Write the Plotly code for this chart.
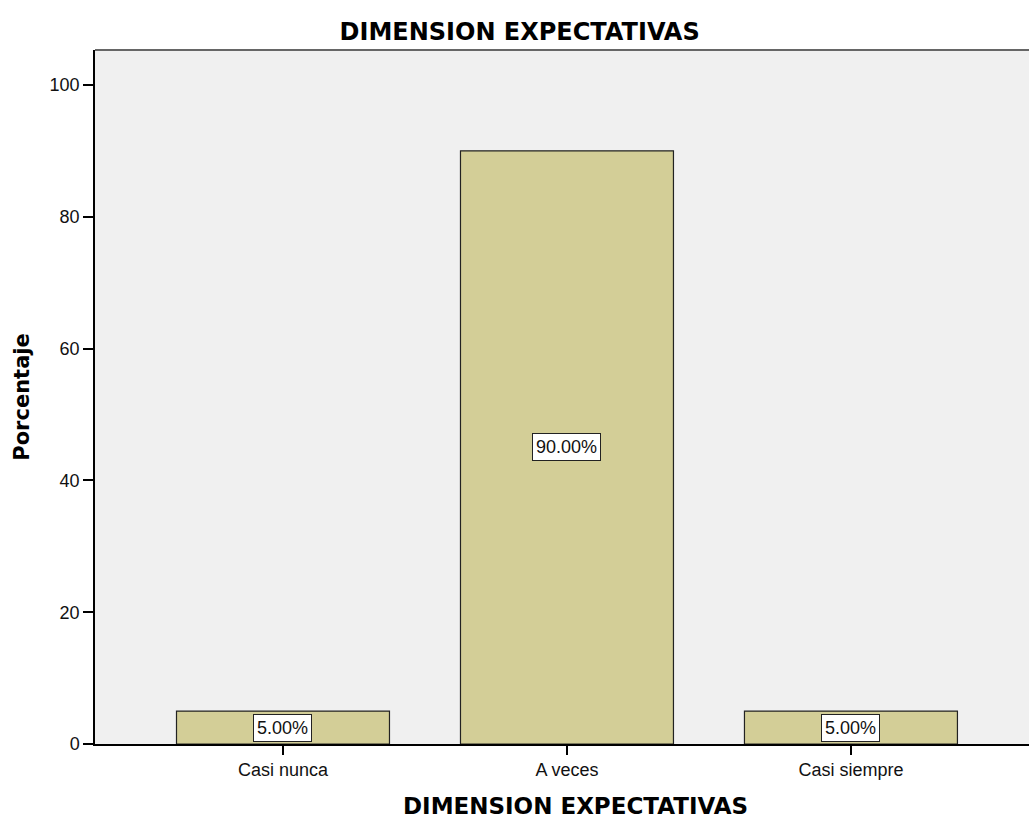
import plotly.graph_objects as go

categories = ["Casi nunca", "A veces", "Casi siempre"]
percentages = [5.0, 90.0, 5.0]
label_texts = ["5.00%", "90.00%", "5.00%"]
y_ticks = [0, 20, 40, 60, 80, 100]

FONT = "Liberation Sans, Arial, sans-serif"
TFONT = "DejaVu Sans, Liberation Sans, Arial, sans-serif"

fig = go.Figure()
fig.add_trace(go.Bar(
    x=categories, y=percentages, width=0.75,
    marker=dict(color="#D3CE97", line=dict(color="#222222", width=1.2)),
    hoverinfo="skip",
))

for c, v, t in zip(categories, percentages, label_texts):
    fig.add_annotation(
        x=c, y=v / 2, text=t, showarrow=False,
        font=dict(family=FONT, size=18, color="#111111"),
        bgcolor="white", bordercolor="#222222", borderwidth=1, borderpad=3,
    )

# x-axis title placed as annotation (centred like the reference)
fig.add_annotation(
    xref="paper", yref="paper", x=0.514, y=-62 / 694, xanchor="center", yanchor="middle",
    text="<b>DIMENSION EXPECTATIVAS</b>", showarrow=False,
    font=dict(family=TFONT, size=23, color="black"),
)

fig.update_layout(
    width=1029, height=819,
    margin=dict(l=95, r=0, t=50, b=75),
    paper_bgcolor="white", plot_bgcolor="#F0F0F0",
    showlegend=False,
    title=dict(text="<b>DIMENSION EXPECTATIVAS</b>", x=0.505, xanchor="center",
               y=1 - 32 / 819, yanchor="middle",
               font=dict(family=TFONT, size=24, color="black")),
    font=dict(family=FONT, size=18, color="black"),
    shapes=[dict(type="line", xref="paper", yref="paper", x0=0, x1=1, y0=1, y1=1,
                 line=dict(color="#666666", width=2))],
)

fig.update_xaxes(
    range=[-0.662, 2.627], showline=True, linecolor="black", linewidth=1.5,
    ticks="outside", ticklen=9, tickcolor="black", tickwidth=1.5,
    showgrid=False, zeroline=False,
    tickfont=dict(family=FONT, size=18, color="#111111"),
)
fig.update_yaxes(
    range=[0, 105.3], tickvals=y_ticks, showline=True, linecolor="black", linewidth=1.5,
    ticks="outside", ticklen=10, tickcolor="black", tickwidth=1.5,
    showgrid=False, zeroline=False,
    tickfont=dict(family=FONT, size=18, color="#111111"),
    title=dict(text="<b>Porcentaje</b>", standoff=14,
               font=dict(family=TFONT, size=21)),
)

fig.write_html("out.html", config={"displayModeBar": False},
               post_script="document.body.style.margin='0';")
